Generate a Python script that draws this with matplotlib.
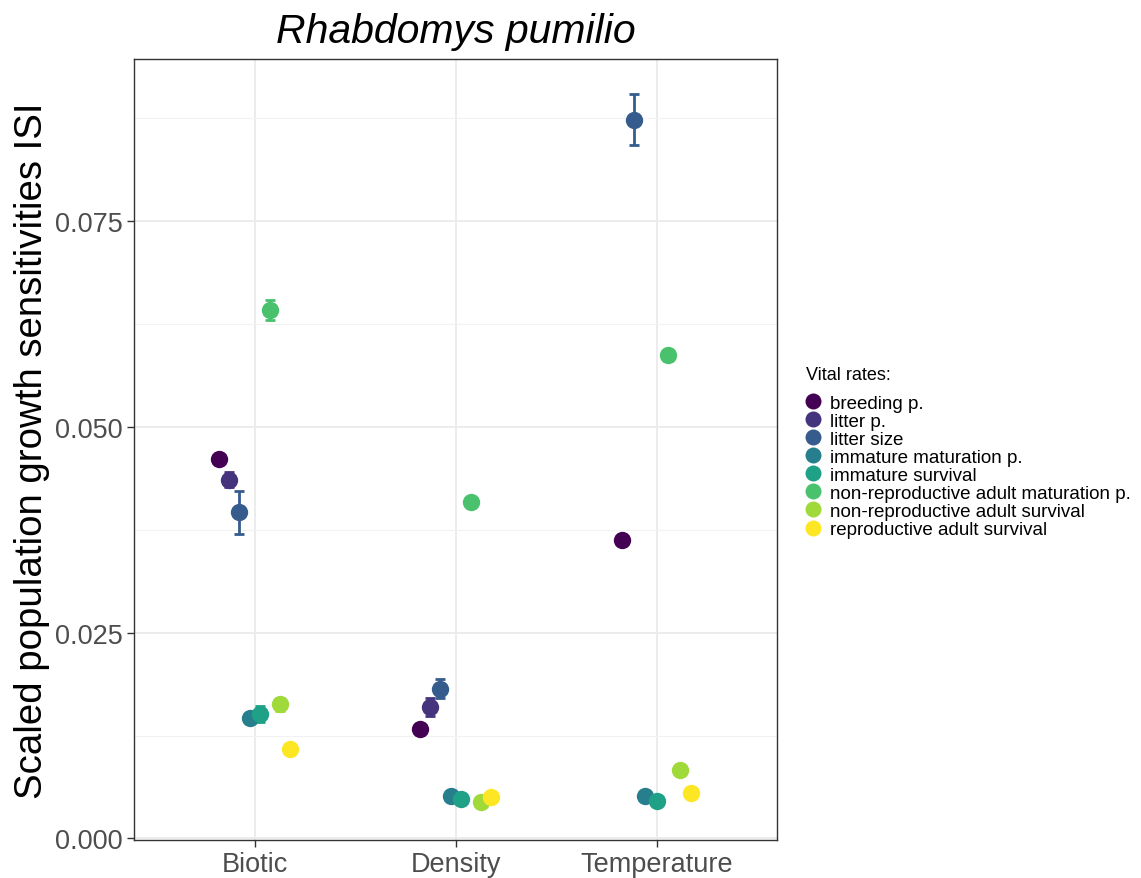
import numpy as np
import matplotlib.pyplot as plt
from matplotlib.lines import Line2D

drivers = ["Biotic", "Density", "Temperature"]
vital_rates = ["breeding p.", "litter p.", "litter size", "immature maturation p.",
               "immature survival", "non-reproductive adult maturation p.",
               "non-reproductive adult survival", "reproductive adult survival"]
colors = ["#440154", "#46337E", "#365C8D", "#277F8E",
          "#1FA187", "#4AC16D", "#9FDA3A", "#FDE725"]

# mean scaled sensitivities, one row per driver (nan = rate not affected)
sens = np.array([
    [0.0461, 0.0436, 0.0396, 0.0146, 0.0151, 0.0642, 0.0163, 0.0109],
    [0.0133, 0.0160, 0.0182, 0.0052, 0.0048, 0.0409, 0.0044, 0.0050],
    [0.0362, np.nan, 0.0873, 0.0052, 0.0045, 0.0587, 0.0083, 0.0055],
])
# standard errors
err = np.array([
    [0.0003, 0.0009, 0.0026, 0.0004, 0.0010, 0.0012, 0.0008, 0.0003],
    [0.0003, 0.0011, 0.0012, 0.0002, 0.0002, 0.0003, 0.0002, 0.0002],
    [0.0003, np.nan, 0.0031, 0.0002, 0.0002, 0.0007, 0.0002, 0.0002],
])

plt.rcParams['font.family'] = ['Liberation Sans', 'DejaVu Sans']

fig = plt.figure(figsize=(11.41, 8.79), dpi=100)
ax = fig.add_axes([0.1174, 0.0432, 0.5637, 0.8885])

dodge = 0.4
for i, drv in enumerate(drivers):
    present = [j for j in range(len(vital_rates)) if not np.isnan(sens[i, j])]
    n = len(present)
    for k, j in enumerate(present):
        x = (i + 1) + (k - (n - 1) / 2) * dodge / n
        ax.errorbar(x, sens[i, j], yerr=err[i, j], color=colors[j], lw=2,
                    capsize=3.5, capthick=2, zorder=3)
        ax.plot(x, sens[i, j], "o", color=colors[j], ms=12.5, mew=0, zorder=4)

ax.set_xlim(0.4, 3.6)
ax.set_ylim(-0.0002, 0.0947)
ax.set_xticks([1, 2, 3])
ax.set_xticklabels(drivers)
ax.set_yticks([0, 0.025, 0.05, 0.075])
ax.set_yticklabels(["0.000", "0.025", "0.050", "0.075"])
ax.set_yticks([0.0125, 0.0375, 0.0625, 0.0875], minor=True)
ax.tick_params(axis="both", which="major", labelsize=19.5, labelcolor="#4D4D4D",
               color="#333333", length=5, width=1, pad=3)
ax.tick_params(axis="y", which="minor", length=0)
ax.grid(which="major", color="#EBEBEB", lw=1.3, zorder=0)
ax.grid(which="minor", axis="y", color="#F2F2F2", lw=0.8, zorder=0)
ax.set_axisbelow(True)
for sp in ax.spines.values():
    sp.set_color("#333333")
    sp.set_linewidth(1)

ax.set_ylabel("Scaled population growth sensitivities ISI", fontsize=27.6, labelpad=4)
ax.set_title("Rhabdomys pumilio", fontsize=29.5, style="italic", pad=12)

# legend: title placed on its own so the gap above the keys can be set
fig.text(0.706, 1 - 376 / 879, "Vital rates:", fontsize=13, va="center", ha="left")
handles = [Line2D([], [], marker="o", ls="", color=c, ms=11.5, mew=0) for c in colors]
fig.legend(handles, vital_rates, loc="upper left", bbox_to_anchor=(0.703, 0.550),
           frameon=False, fontsize=13.5, handletextpad=0.33, labelspacing=0.05,
           handlelength=1.15, borderaxespad=0, borderpad=0)

fig.savefig("out.png", dpi=100)
